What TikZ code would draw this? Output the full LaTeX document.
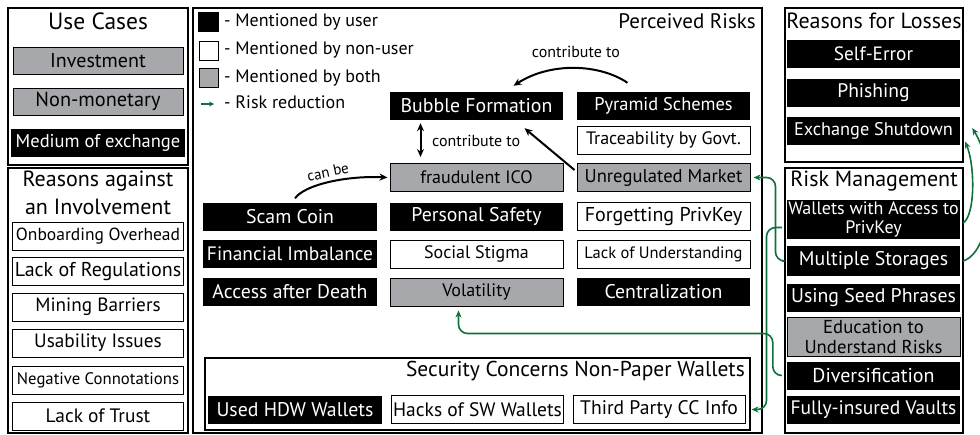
\documentclass[tikz,border=0pt]{standalone}
\usepackage{fontspec}
\setmainfont{PT Sans}
\usetikzlibrary{arrows.meta}
\definecolor{bothgray}{RGB}{167,168,171}
\definecolor{riskgreen}{RGB}{16,112,60}
\newcommand{\fs}[1]{\fontsize{#1}{#1}\selectfont}
\tikzset{
  panel/.style={draw, line width=1.2pt},
  item/.style={minimum width=173pt, minimum height=28pt, inner sep=0pt, align=center,
    font=\fs{18}},
  user/.style={item, fill=black, text=white, font=\fs{19.8}},
  nonuser/.style={item, draw, line width=1pt, fill=white},
  both/.style={item, draw, line width=1pt, fill=bothgray},
  heading/.style={inner sep=0pt, font=\fs{22}},
  lbl/.style={inner sep=0pt, font=\fs{16}},
  link/.style={line width=2pt, -{Stealth[length=8pt,width=7pt]}},
  reduce/.style={riskgreen, line width=1.6pt, -{Stealth[length=7pt,width=6pt]}},
}
\begin{document}
\begin{tikzpicture}[x=1pt,y=-1pt]
\useasboundingbox (0,0) rectangle (980,434);
% use cases
\draw[panel] (8,8) rectangle (188,165);
\node[heading, font=\fs{23.5}] (tuse) at (98,21) {Use Cases};
\node[both, minimum width=170pt, minimum height=27pt, font=\fs{20}] (inv) at (98,60.5) {Investment};
\node[both, minimum width=170pt, minimum height=27pt, font=\fs{20.3}] (nonmon) at (98,101.5) {Non-monetary};
\node[user, minimum width=174pt, font=\fs{18.5}] (medium) at (98,143) {Medium of exchange};
% reasons against an involvement
\draw[panel] (8,168) rectangle (188,433);
\node[heading] (tagainst) at (98,181) {Reasons against};
\node[heading] (tinvolve) at (98,207) {an Involvement};
\node[nonuser, minimum width=171pt, font=\fs{17.5}] (onboard) at (98,236.5) {Onboarding Overhead};
\node[nonuser, minimum width=171pt, font=\fs{20}] (lackreg) at (98,271.5) {Lack of Regulations};
\node[nonuser, minimum width=171pt, font=\fs{19.2}] (mining) at (98,307) {Mining Barriers};
\node[nonuser, minimum width=171pt, font=\fs{19.3}] (usab) at (98,343) {Usability Issues};
\node[nonuser, minimum width=171pt, font=\fs{16.7}] (negconn) at (98,380) {Negative Connotations};
\node[nonuser, minimum width=171pt, font=\fs{19.4}] (lacktrust) at (98,416) {Lack of Trust};
% perceived risks
\draw[panel] (193,8) rectangle (762,433);
\node[heading, anchor=east, font=\fs{21}] (trisks) at (756,21) {Perceived Risks};
% legend
\node[draw, fill=black, minimum width=20pt, minimum height=19pt, inner sep=0pt] (keyuser) at (208.5,22) {};
\node[draw, line width=1pt, fill=white, minimum width=19pt, minimum height=19pt, inner sep=0pt] (keynon) at (208.5,50.5) {};
\node[draw, line width=1pt, fill=bothgray, minimum width=19pt, minimum height=19pt, inner sep=0pt] (keyboth) at (208.5,78) {};
\coordinate (keyfrom) at (201,104);
\coordinate (keyto) at (214,104);
\draw[reduce, line width=1.2pt, -{Stealth[length=5pt,width=5pt]}] (keyfrom) -- (keyto);
\node[lbl, anchor=west, font=\fs{18}] (tkeyuser) at (224,22) {- Mentioned by user};
\node[lbl, anchor=west, font=\fs{18}] (tkeynon) at (224,50) {- Mentioned by non-user};
\node[lbl, anchor=west, font=\fs{18}] (tkeyboth) at (224,78) {- Mentioned by both};
\node[lbl, anchor=west, font=\fs{18}] (tkeyred) at (224,102) {- Risk reduction};
% risks
\node[user] (bubble) at (476.5,106) {Bubble Formation};
\node[both] (ico) at (476.5,177.5) {fraudulent ICO};
\node[user] (safety) at (476.5,216.5) {Personal Safety};
\node[nonuser] (stigma) at (476.5,254) {Social Stigma};
\node[both] (vol) at (476.5,292) {Volatility};
\node[user, font=\fs{18.4}] (pyr) at (663.5,106) {Pyramid Schemes};
\node[nonuser] (trace) at (663.5,140) {Traceability by Govt.};
\node[both, font=\fs{18.6}] (um) at (663.5,177.5) {Unregulated Market};
\node[nonuser, font=\fs{20}] (forget) at (663.5,216.5) {Forgetting PrivKey};
\node[nonuser, font=\fs{16.5}] (understand) at (663.5,254) {Lack of Understanding};
\node[user] (central) at (663.5,292) {Centralization};
\node[user, minimum width=174pt] (scam) at (290,216.5) {Scam Coin};
\node[user, minimum width=174pt, font=\fs{19.4}] (imbal) at (290,254) {Financial Imbalance};
\node[user, minimum width=174pt] (death) at (290,292) {Access after Death};
% security concerns
\draw[panel] (205,358) rectangle (750,430);
\node[heading, anchor=east, font=\fs{21.5}] (tsec) at (745,371) {Security Concerns Non-Paper Wallets};
\node[user, minimum width=174pt] (hdw) at (295,409.5) {Used HDW Wallets};
\node[nonuser, minimum width=172pt, font=\fs{19.5}] (hacks) at (477.5,409.5) {Hacks of SW Wallets};
\node[nonuser, minimum width=172pt, font=\fs{19.6}] (third) at (659,409.5) {Third Party CC Info};
% reasons for losses
\draw[panel] (785,8) rectangle (963,162);
\node[heading] (tlosses) at (874,21) {Reasons for Losses};
\node[user, font=\fs{19.3}] (selferr) at (873.5,54) {Self-Error};
\node[user, font=\fs{19.6}] (phish) at (873.5,92.5) {Phishing};
\node[user, font=\fs{18.3}] (exch) at (873.5,130.5) {Exchange Shutdown};
% risk management
\draw[panel] (785,168) rectangle (963,433);
\node[heading] (tmanage) at (874,181) {Risk Management};
\node[user, minimum height=39pt, font=\fontsize{18}{19}\selectfont] (wallets) at (873.5,219.5) {Wallets with Access to\\PrivKey};
\node[user, minimum height=30pt] (multi) at (873.5,261) {Multiple Storages};
\node[user] (seed) at (873.5,297.5) {Using Seed Phrases};
\node[both, minimum height=39pt, font=\fontsize{18.7}{20}\selectfont] (edu) at (873.5,336.5) {Education to\\Understand Risks};
\node[user, font=\fs{20}] (divers) at (873.5,375.5) {Diversification};
\node[user, font=\fs{19.5}] (vaults) at (873.5,410) {Fully-insured Vaults};
% contribute to / can be
\draw[link] ([xshift=-36pt,yshift=9pt]pyr.north) .. controls +(-28,-19) and +(37,-24) .. ([xshift=37pt,yshift=6pt]bubble.north);
\node[lbl] (tcontrib) at (576,52) {contribute to};
\draw[link, {Stealth[length=8pt,width=7pt]}-{Stealth[length=8pt,width=7pt]}] ([xshift=-56pt,yshift=-3pt]bubble.south) -- ([xshift=-56pt,yshift=6pt]ico.north);
\node[lbl, anchor=west] (tcontrib2) at (432,141) {contribute to};
\draw[link] ([xshift=-2pt,yshift=-7pt]um.north west) -- ([xshift=48pt,yshift=-8pt]bubble.south);
\draw[link] ([xshift=5pt,yshift=4pt]scam.north) .. controls +(10,-14) and +(-40,-2) .. ([xshift=-2pt]ico.west);
\node[lbl, rotate=12, font=\fs{15}] (tcanbe) at (328,172) {can be};
% risk reduction
\draw[reduce, rounded corners=9pt] ([xshift=-5pt]multi.west) -| ([xshift=25pt]um.east) -- ([xshift=3pt]um.east);
\draw[reduce, rounded corners=9pt] ([xshift=-5pt,yshift=-8pt]wallets.west) -| ([xshift=21pt]third.east) -- ([xshift=6pt]third.east);
\draw[reduce, rounded corners=9pt] ([xshift=-5pt]divers.west) -| ++(-9,-42) -| ([xshift=-18pt,yshift=-4pt]vol.south);
\draw[reduce] ([xshift=3pt,yshift=-3.5pt]wallets.east) .. controls +(12,-8) and +(10,25) .. ([xshift=5pt,yshift=-11pt]exch.east);
\draw[reduce] ([xshift=3pt]multi.east) .. controls +(30,-10) and +(25,40) .. ([xshift=12pt,yshift=2.5pt]exch.east);
\end{tikzpicture}
\end{document}
